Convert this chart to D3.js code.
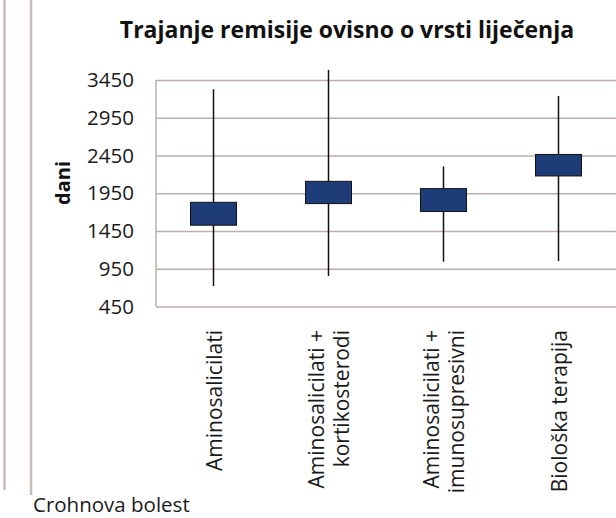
<!DOCTYPE html>
<html><head><meta charset="utf-8">
<script src="https://cdn.jsdelivr.net/npm/d3@7"></script>
<style>html,body{margin:0;padding:0;background:#fff;}svg{display:block;}</style>
</head><body>
<svg id="c" width="616" height="518"></svg>
<script>
const categories = [["Aminosalicilati"], ["Aminosalicilati +", "kortikosterodi"], ["Aminosalicilati +", "imunosupresivni"], ["Biološka terapija"]];
const whiskerLow = [722, 854, 1044, 1052];
const whiskerHigh = [3327, 3582, 2306, 3239];
const boxLow = [1527, 1813, 1708, 2179];
const boxHigh = [1830, 2108, 2011, 2464];
const yTicks = [450, 950, 1450, 1950, 2450, 2950, 3450];
const title = "Trajanje remisije ovisno o vrsti liječenja";
const yTitle = "dani";
const caption = "Crohnova bolest";

(function () {
const svg = d3.select("#c");
const font = "'Open Sans', sans-serif";
const gridColor = "#bcaeac";
const textColor = "#1a1a1a";

// page decorations
svg.append("line").attr("x1", 4.5).attr("x2", 4.5).attr("y1", 0).attr("y2", 490).attr("stroke", "#cbbcbc").attr("stroke-width", 2.5);
svg.append("line").attr("x1", 31).attr("x2", 31).attr("y1", 0).attr("y2", 495).attr("stroke", "#cbbcbc").attr("stroke-width", 2.5);

const pl = 156, pr = 616, pt = 80, pb = 306.5;
const x = d3.scaleBand().domain(d3.range(categories.length)).range([pl, pr]).padding(0);
const y = d3.scaleLinear().domain([450, 3450]).range([pb, pt]);

// gridlines
const yAxis = d3.axisLeft(y).tickValues(yTicks).tickSize(-(pr - pl)).tickFormat(d3.format("d")).tickPadding(22);
const gy = svg.append("g").attr("transform", `translate(${pl},0)`).call(yAxis);
gy.select(".domain").remove();
gy.selectAll(".tick line").attr("stroke", gridColor).attr("stroke-width", 1.5);
gy.selectAll(".tick text").attr("font-family", font).attr("font-size", 20.5).attr("fill", textColor);

// plot border (left)
svg.append("line").attr("x1", pl).attr("x2", pl).attr("y1", pt).attr("y2", pb).attr("stroke", gridColor).attr("stroke-width", 1.5);

// whiskers and boxes
const bw = x.bandwidth() * 0.4;
const g = svg.append("g");
categories.forEach((c, i) => {
  const cx = x(i) + x.bandwidth() / 2;
  g.append("line").attr("x1", cx).attr("x2", cx).attr("y1", y(whiskerHigh[i])).attr("y2", y(whiskerLow[i]))
    .attr("stroke", "#111").attr("stroke-width", 1.5);
  g.append("rect").attr("x", cx - bw / 2).attr("width", bw)
    .attr("y", y(boxHigh[i])).attr("height", y(boxLow[i]) - y(boxHigh[i]))
    .attr("fill", "#1d3c78").attr("stroke", "#111").attr("stroke-width", 1);
});

// x labels (rotated)
categories.forEach((c, i) => {
  const cx = x(i) + x.bandwidth() / 2;
  const n = c.length;
  const lh = 25;
  c.forEach((line, j) => {
    const off = (j - (n - 1) / 2) * lh + 8;
    svg.append("text")
      .attr("transform", `translate(${cx + off},330) rotate(-90)`)
      .attr("text-anchor", "end")
      .attr("font-family", font).attr("font-size", 21).attr("fill", textColor)
      .text(line);
  });
});

// title
svg.append("text").attr("x", 347).attr("y", 38).attr("text-anchor", "middle")
  .attr("font-family", font).attr("font-weight", "bold").attr("font-size", 23).attr("fill", "#111").text(title);

// y title
svg.append("text").attr("transform", "translate(70,183) rotate(-90)").attr("text-anchor", "middle")
  .attr("font-family", font).attr("font-weight", "bold").attr("font-size", 20).attr("fill", "#111").text(yTitle);

// caption
svg.append("text").attr("x", 33).attr("y", 512).attr("font-family", font).attr("font-size", 20.5).attr("fill", textColor).text(caption);
})();
</script>
</body></html>
